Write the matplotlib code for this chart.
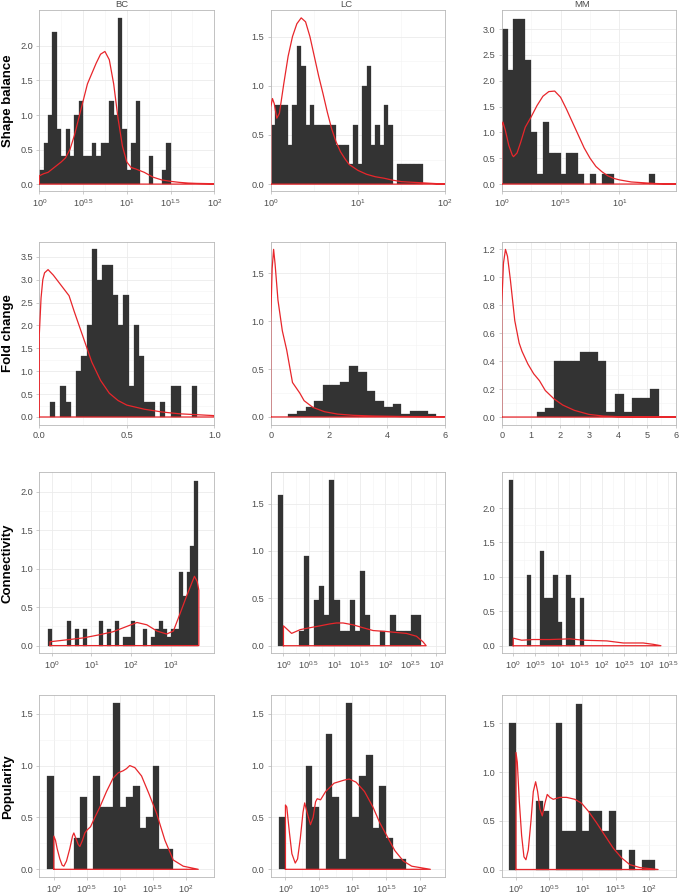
import matplotlib
matplotlib.use('Agg')
import matplotlib.pyplot as plt
import numpy as np

plt.rcParams['font.family'] = ['Liberation Sans', 'DejaVu Sans']
plt.rcParams['mathtext.default'] = 'regular'

# ---- data: histogram bin starts / widths / heights, density curves (x in axis units) ----
# Shape balance (log10 x)
sb_bc_start, sb_bc_width = 0.0, 0.05
sb_bc_h = [0.2, 0.6, 1.0, 2.2, 0.8, 0.4, 0.8, 0.4, 1.0, 1.2, 0.4, 0.4, 0.6, 0.4, 0.6,
           0.6, 1.2, 1.0, 2.4, 0.8, 0.2, 0.6, 1.2, 0, 0, 0.4, 0, 0, 0.2, 0.6]
sb_bc_dx = [0, 0.05, 0.1, 0.15, 0.2, 0.25, 0.3, 0.35, 0.4, 0.45, 0.5, 0.55, 0.6, 0.65, 0.7,
            0.75, 0.8, 0.85, 0.9, 0.95, 1.0, 1.05, 1.1, 1.2, 1.3, 1.4, 1.5, 1.6, 1.7, 1.8, 2.0]
sb_bc_dy = [0.12, 0.15, 0.17, 0.22, 0.27, 0.32, 0.38, 0.5, 0.7, 0.95, 1.2, 1.45, 1.6, 1.75, 1.88,
            1.92, 1.8, 1.45, 0.95, 0.55, 0.32, 0.24, 0.22, 0.17, 0.1, 0.06, 0.04, 0.025, 0.015, 0.01, 0.005]

sb_lc_start, sb_lc_width = 0.0, 0.05
sb_lc_h = [0.6, 0.8, 0.8, 0.8, 0.4, 0.8, 1.4, 1.2, 0.6, 0.8, 0.6, 0.6, 0.6, 0.6, 0.6,
           0.4, 0.4, 0.4, 0.2, 0.6, 0.2, 1.0, 1.2, 0.4, 0.6, 0.4, 0.8, 0.6, 0,
           0.2, 0.2, 0.2, 0.2, 0.2, 0.2]
sb_lc_dx = [0, 0.02, 0.04, 0.07, 0.1, 0.15, 0.2, 0.25, 0.3, 0.35, 0.4, 0.45, 0.5, 0.55, 0.6,
            0.65, 0.7, 0.75, 0.8, 0.85, 0.9, 1.0, 1.1, 1.2, 1.3, 1.4, 1.5, 1.6, 1.8, 2.0]
sb_lc_dy = [0.78, 0.87, 0.82, 0.67, 0.72, 1.02, 1.3, 1.5, 1.63, 1.69, 1.65, 1.5, 1.3, 1.1, 0.92,
            0.73, 0.56, 0.43, 0.33, 0.26, 0.2, 0.14, 0.1, 0.075, 0.06, 0.04, 0.025, 0.02, 0.01, 0.0]

sb_mm_start, sb_mm_width = 0.0, 0.05
sb_mm_h = [3.0, 2.2, 3.2, 3.2, 2.4, 1.0, 0.2, 1.2, 0.6, 0.6, 0.2, 0.6, 0.6, 0.2, 0,
           0.2, 0, 0.2, 0.2, 0, 0, 0, 0, 0, 0, 0.2]
sb_mm_dx = [0, 0.01, 0.03, 0.06, 0.09, 0.1, 0.13, 0.16, 0.2, 0.25, 0.3, 0.35, 0.4, 0.45, 0.5,
            0.55, 0.6, 0.65, 0.7, 0.75, 0.8, 0.85, 0.9, 0.95, 1.0, 1.1, 1.2, 1.3, 1.48]
sb_mm_dy = [1.12, 1.2, 1.05, 0.75, 0.56, 0.53, 0.6, 0.8, 1.1, 1.3, 1.52, 1.7, 1.79, 1.8, 1.68,
            1.45, 1.2, 0.95, 0.7, 0.5, 0.34, 0.24, 0.16, 0.11, 0.08, 0.04, 0.025, 0.01, 0.0]

# Fold change (linear x)
fc_bc_start, fc_bc_width = 0.06, 0.03
fc_bc_h = [0.33, 0, 0.67, 0.33, 0, 1.0, 1.33, 2.0, 3.67, 3.0, 3.33, 3.33, 2.67, 2.0, 2.67,
           0.67, 2.0, 1.33, 0.33, 0.33, 0, 0.33, 0, 0.67, 0.67, 0, 0, 0.67]
fc_bc_dx = [0, 0.01, 0.02, 0.03, 0.05, 0.08, 0.11, 0.15, 0.17, 0.2, 0.25, 0.3, 0.35, 0.4,
            0.45, 0.5, 0.6, 0.7, 0.8, 0.9, 1.0]
fc_bc_dy = [1.8, 2.6, 3.0, 3.15, 3.22, 3.1, 2.95, 2.75, 2.65, 2.3, 1.75, 1.2, 0.8, 0.52,
            0.36, 0.26, 0.17, 0.11, 0.07, 0.05, 0.03]

fc_lc_start, fc_lc_width = 0.6, 0.3
fc_lc_h = [0.033, 0.067, 0.1, 0.167, 0.333, 0.333, 0.367, 0.533, 0.467, 0.267, 0.167, 0.1,
           0.133, 0.033, 0.067, 0.067, 0.033]
fc_lc_dx = [0, 0.05, 0.1, 0.15, 0.25, 0.4, 0.55, 0.75, 1.0, 1.15, 1.45, 1.85, 2.3, 2.85, 3.5, 4.5, 6.0]
fc_lc_dy = [1.0, 1.55, 1.75, 1.6, 1.22, 0.9, 0.7, 0.36, 0.25, 0.17, 0.1, 0.055, 0.03, 0.017,
            0.01, 0.005, 0.002]

fc_mm_start, fc_mm_width = 1.2, 0.3
fc_mm_h = [0.033, 0.067, 0.4, 0.4, 0.4, 0.467, 0.467, 0.4, 0.033, 0.167, 0.033, 0.133, 0.133, 0.2]
fc_mm_dx = [0, 0.06, 0.13, 0.2, 0.3, 0.45, 0.6, 0.7, 0.9, 1.1, 1.3, 1.5, 1.8, 2.1, 2.5, 3.0,
            3.5, 4.0, 6.0]
fc_mm_dy = [0.79, 1.1, 1.2, 1.15, 0.98, 0.69, 0.53, 0.47, 0.38, 0.31, 0.26, 0.19, 0.13, 0.086,
            0.048, 0.019, 0.007, 0.003, 0.0]

# Connectivity (log10 x)
cn_bc_start, cn_bc_width = -0.1, 0.1
cn_bc_h = [0.21, 0, 0, 0, 0, 0.32, 0, 0.21, 0, 0.21, 0, 0, 0, 0.32, 0, 0.21, 0, 0.32, 0,
           0.11, 0.11, 0.32, 0, 0, 0.21, 0, 0.11, 0.21, 0.32, 0.21, 0.11, 0.21, 0.21,
           0.96, 0.64, 0.96, 1.29, 2.14]
cn_bc_dx = [-0.04, 0.3, 0.8, 1.2, 1.55, 1.9, 2.15, 2.4, 2.65, 2.9, 3.07, 3.24, 3.4, 3.53,
            3.6, 3.67, 3.71]
cn_bc_dy = [0.05, 0.07, 0.1, 0.14, 0.18, 0.25, 0.3, 0.27, 0.19, 0.15, 0.19, 0.42, 0.64, 0.81,
            0.9, 0.83, 0.72]

cn_lc_start, cn_lc_width = -0.1, 0.1
cn_lc_h = [1.59, 0, 0, 0, 0.16, 0.95, 0, 0.48, 0.63, 0.32, 1.75, 0.48, 0.16, 0.16, 0.48,
           0.16, 0.79, 0.32, 0, 0, 0.16, 0, 0.32, 0.16, 0.16, 0.16, 0.32, 0.32]
cn_lc_dx = [0, 0.16, 0.33, 0.52, 0.72, 0.91, 1.04, 1.17, 1.37, 1.56, 1.76, 2.02, 2.21, 2.41,
            2.61, 2.74, 2.8]
cn_lc_dy = [0.21, 0.13, 0.17, 0.19, 0.21, 0.23, 0.24, 0.24, 0.22, 0.19, 0.16, 0.15, 0.14,
            0.13, 0.1, 0.04, 0.0]

cn_mm_start, cn_mm_width = -0.1, 0.1
cn_mm_h = [2.41, 0, 0, 0, 1.03, 0, 0, 1.38, 0.69, 0.69, 1.03, 0.34, 0, 1.03, 0.69, 0, 0.69]
cn_mm_dx = [0, 0.19, 0.45, 0.83, 1.28, 1.58, 2.11, 2.48, 2.93, 3.16, 3.33]
cn_mm_dy = [0.11, 0.08, 0.09, 0.09, 0.1, 0.08, 0.07, 0.04, 0.04, 0.02, 0.0]

# Popularity (log10 x)
pp_bc_start, pp_bc_width = -0.1, 0.1
pp_bc_h = [0.9, 0, 0, 0, 0.3, 0.7, 0, 0.9, 0.6, 0.6, 1.6, 0.6, 0.7, 0.8, 0.4, 0.5, 1.0, 0.2, 0.2]
pp_bc_dx = [0, 0.025, 0.05, 0.091, 0.126, 0.152, 0.192, 0.242, 0.283, 0.303, 0.333, 0.369,
            0.394, 0.434, 0.47, 0.505, 0.556, 0.621, 0.697, 0.798, 0.899, 0.975, 1.05, 1.1,
            1.15, 1.227, 1.328, 1.439, 1.556, 1.682, 1.808, 1.96, 2.187]
pp_bc_dy = [0.32, 0.28, 0.2, 0.1, 0.04, 0.03, 0.08, 0.2, 0.32, 0.35, 0.3, 0.24, 0.22, 0.28,
            0.35, 0.38, 0.41, 0.5, 0.6, 0.75, 0.88, 0.93, 0.95, 0.97, 1.0, 0.98, 0.9, 0.73,
            0.54, 0.28, 0.09, 0.03, 0.0]

pp_lc_start, pp_lc_width = -0.1, 0.1
pp_lc_h = [0.5, 0, 0, 0, 1.0, 0.6, 0, 1.3, 0.7, 0.1, 1.6, 0.5, 0.9, 1.1, 0.4, 0.8, 0.3, 0.1, 0.1]
pp_lc_dx = [0, 0.02, 0.06, 0.096, 0.146, 0.181, 0.222, 0.262, 0.287, 0.322, 0.373, 0.413,
            0.449, 0.474, 0.524, 0.6, 0.725, 0.877, 0.952, 1.053, 1.179, 1.305, 1.406, 1.531,
            1.632, 1.758, 1.884, 2.161]
pp_lc_dy = [0.62, 0.6, 0.35, 0.15, 0.06, 0.1, 0.3, 0.55, 0.64, 0.55, 0.43, 0.5, 0.65, 0.68,
            0.67, 0.75, 0.83, 0.86, 0.87, 0.84, 0.75, 0.6, 0.45, 0.3, 0.18, 0.08, 0.03, 0.0]

pp_mm_start, pp_mm_width = -0.1, 0.1
pp_mm_h = [1.5, 0, 0, 0, 0.7, 0.6, 0, 1.5, 0.4, 0.4, 1.7, 0.4, 0.6, 0.6, 0.4, 0.6, 0.2, 0,
           0.2, 0, 0.1, 0.1]
pp_mm_dx = [0, 0.02, 0.05, 0.085, 0.12, 0.15, 0.185, 0.226, 0.261, 0.296, 0.326, 0.361,
            0.396, 0.436, 0.471, 0.511, 0.561, 0.662, 0.762, 0.887, 0.987, 1.088, 1.213,
            1.338, 1.464, 1.589, 1.714, 1.865, 2.14]
pp_mm_dy = [1.2, 1.1, 0.7, 0.35, 0.13, 0.1, 0.2, 0.5, 0.8, 0.9, 0.8, 0.62, 0.55, 0.68, 0.77,
            0.74, 0.72, 0.74, 0.74, 0.72, 0.68, 0.6, 0.48, 0.35, 0.22, 0.12, 0.05, 0.02, 0.0]

row_labels = ['Shape balance', 'Fold change', 'Connectivity', 'Popularity']
col_labels = ['BC', 'LC', 'MM']

# ---- layout (pixels) ----
W, H = 679, 896
col_l = [39.3, 270.7, 501.7]
col_r = [214.3, 445.0, 676.0]
row_t = [10, 241.7, 472.3, 695]
row_b = [191, 425, 653.3, 877.3]

GRID = '#ebebeb'
FRAME = '#b8b8b8'
TXT = '#4d4d4d'
RED = '#e8262b'
BAR = '#333333'


def log_label(v):
    return '$10^{%s}$' % ('%g' % v)


panels = [
    # row 0
    dict(s=sb_bc_start, w=sb_bc_width, h=sb_bc_h, dx=sb_bc_dx, dy=sb_bc_dy, xlim=(0, 2), ylim=(-0.1, 2.52),
         xt=[0, 0.5, 1, 1.5, 2], log=True, yt=[0, 0.5, 1.0, 1.5, 2.0]),
    dict(s=sb_lc_start, w=sb_lc_width, h=sb_lc_h, dx=sb_lc_dx, dy=sb_lc_dy, xlim=(0, 2), ylim=(-0.07, 1.77),
         xt=[0, 1, 2], log=True, yt=[0, 0.5, 1.0, 1.5]),
    dict(s=sb_mm_start, w=sb_mm_width, h=sb_mm_h, dx=sb_mm_dx, dy=sb_mm_dy, xlim=(0, 1.48), ylim=(-0.135, 3.37),
         xt=[0, 0.5, 1], log=True, yt=[0, 0.5, 1.0, 1.5, 2.0, 2.5, 3.0]),
    # row 1
    dict(s=fc_bc_start, w=fc_bc_width, h=fc_bc_h, dx=fc_bc_dx, dy=fc_bc_dy, xlim=(0, 1), ylim=(-0.175, 3.83),
         xt=[0, 0.5, 1.0], log=False, fmt='%.1f', yt=[0, 0.5, 1.0, 1.5, 2.0, 2.5, 3.0, 3.5]),
    dict(s=fc_lc_start, w=fc_lc_width, h=fc_lc_h, dx=fc_lc_dx, dy=fc_lc_dy, xlim=(0, 6), ylim=(-0.084, 1.83),
         xt=[0, 2, 4, 6], log=False, fmt='%d', yt=[0, 0.5, 1.0, 1.5]),
    dict(s=fc_mm_start, w=fc_mm_width, h=fc_mm_h, dx=fc_mm_dx, dy=fc_mm_dy, xlim=(0, 6), ylim=(-0.057, 1.255),
         xt=[0, 1, 2, 3, 4, 5, 6], log=False, fmt='%d', yt=[0, 0.2, 0.4, 0.6, 0.8, 1.0, 1.2]),
    # row 2
    dict(s=cn_bc_start, w=cn_bc_width, h=cn_bc_h, dx=cn_bc_dx, dy=cn_bc_dy, xlim=(-0.31, 4.10), ylim=(-0.1, 2.25),
         xt=[0, 1, 2, 3], log=True, yt=[0, 0.5, 1.0, 1.5, 2.0]),
    dict(s=cn_lc_start, w=cn_lc_width, h=cn_lc_h, dx=cn_lc_dx, dy=cn_lc_dy, xlim=(-0.25, 3.17), ylim=(-0.08, 1.83),
         xt=[0, 0.5, 1, 1.5, 2, 2.5, 3], log=True, yt=[0, 0.5, 1.0, 1.5]),
    dict(s=cn_mm_start, w=cn_mm_width, h=cn_mm_h, dx=cn_mm_dx, dy=cn_mm_dy, xlim=(-0.26, 3.67), ylim=(-0.11, 2.52),
         xt=[0, 0.5, 1, 1.5, 2, 2.5, 3, 3.5], log=True, yt=[0, 0.5, 1.0, 1.5, 2.0]),
    # row 3
    dict(s=pp_bc_start, w=pp_bc_width, h=pp_bc_h, dx=pp_bc_dx, dy=pp_bc_dy, xlim=(-0.22, 2.43), ylim=(-0.077, 1.68),
         xt=[0, 0.5, 1, 1.5, 2], log=True, yt=[0, 0.5, 1.0, 1.5]),
    dict(s=pp_lc_start, w=pp_lc_width, h=pp_lc_h, dx=pp_lc_dx, dy=pp_lc_dy, xlim=(-0.22, 2.38), ylim=(-0.077, 1.68),
         xt=[0, 0.5, 1, 1.5, 2], log=True, yt=[0, 0.5, 1.0, 1.5]),
    dict(s=pp_mm_start, w=pp_mm_width, h=pp_mm_h, dx=pp_mm_dx, dy=pp_mm_dy, xlim=(-0.215, 2.41), ylim=(-0.08, 1.79),
         xt=[0, 0.5, 1, 1.5, 2], log=True, yt=[0, 0.5, 1.0, 1.5]),
]

fig = plt.figure(figsize=(W / 100, H / 100), dpi=100)

for i, p in enumerate(panels):
    r, c = divmod(i, 3)
    ax = fig.add_axes([col_l[c] / W, 1 - row_b[r] / H, (col_r[c] - col_l[c]) / W, (row_b[r] - row_t[r]) / H])

    heights = np.array(p['h'], dtype=float)
    lefts = p['s'] + p['w'] * np.arange(len(heights))
    keep = heights > 0
    ax.bar(lefts[keep], heights[keep], width=p['w'], align='edge', color=BAR,
           edgecolor=BAR, linewidth=0.2, zorder=2)

    # density outline, closed along the baseline
    dx = np.array(p['dx'])
    dy = np.array(p['dy'])
    ax.plot(np.r_[dx[0], dx, dx[-1], dx[0]], np.r_[0, dy, 0, 0], color=RED, lw=0.9, zorder=3)

    ax.set_xlim(*p['xlim'])
    ax.set_ylim(*p['ylim'])
    ax.set_xticks(p['xt'])
    if p['log']:
        ax.set_xticklabels([log_label(v) for v in p['xt']])
    else:
        ax.set_xticklabels([p['fmt'] % v for v in p['xt']])
    ax.set_yticks(p['yt'])
    ax.set_yticklabels(['%.1f' % v for v in p['yt']])

    xt = np.array(p['xt'], dtype=float)
    yt = np.array(p['yt'], dtype=float)
    ax.set_xticks((xt[:-1] + xt[1:]) / 2, minor=True)
    ax.set_yticks((yt[:-1] + yt[1:]) / 2, minor=True)

    ax.grid(which='major', color=GRID, lw=0.6, zorder=0)
    ax.grid(which='minor', color='#f4f4f4', lw=0.4, zorder=0)
    ax.set_axisbelow(True)
    ax.tick_params(which='major', length=2.5, width=0.5, color=FRAME, labelsize=6.6,
                   labelcolor=TXT, pad=2)
    ax.tick_params(which='minor', length=0)
    for sp in ax.spines.values():
        sp.set_color(FRAME)
        sp.set_linewidth(0.6)

    if c == 0:
        fig.text(8 / W, 1 - (row_t[r] + row_b[r]) / 2 / H, row_labels[r], rotation=90,
                 ha='center', va='center', fontsize=9.5, fontweight='bold', color='black')

for c, lab in enumerate(col_labels):
    fig.text([122, 346, 582][c] / W, 1 - 4.5 / H, lab, ha='center', va='center',
             fontsize=6.8, color=TXT)

fig.savefig('out.png', dpi=100)
